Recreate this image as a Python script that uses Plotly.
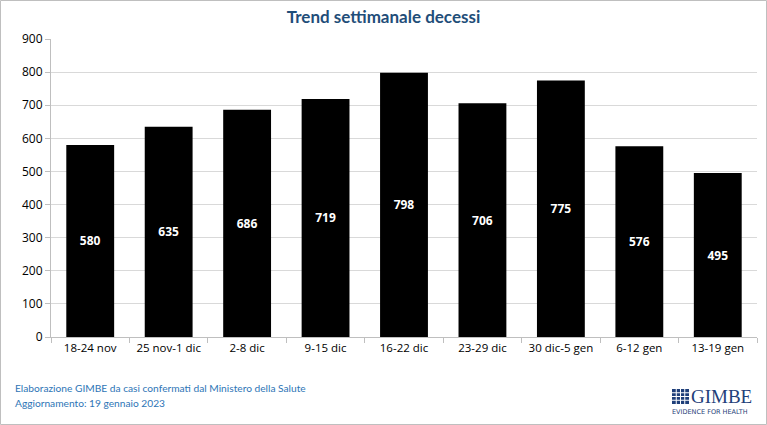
import plotly.graph_objects as go

categories = ["18-24 nov", "25 nov-1 dic", "2-8 dic", "9-15 dic", "16-22 dic",
              "23-29 dic", "30 dic-5 gen", "6-12 gen", "13-19 gen"]
deaths = [580, 635, 686, 719, 798, 706, 775, 576, 495]
y_ticks = [0, 100, 200, 300, 400, 500, 600, 700, 800, 900]

W, H = 767, 425
L, R, T, B = 51, 757, 39, 337

fig = go.Figure(go.Bar(
    x=categories, y=deaths,
    marker=dict(color="black", line=dict(width=0)),
    width=0.61,
    text=["<b>%d</b>" % v for v in deaths],
    textposition="inside", insidetextanchor="middle",
    textfont=dict(color="white", size=12, family="Open Sans"),
    textangle=0,
))

fig.update_layout(
    width=W, height=H,
    margin=dict(l=L, r=W - R, t=T, b=H - B),
    paper_bgcolor="white", plot_bgcolor="white",
    showlegend=False,
    bargap=0.39,
    xaxis=dict(
        type="category", tickson="boundaries", ticks="outside", ticklen=5,
        tickcolor="#BFBFBF", showline=True, linecolor="#BFBFBF", linewidth=1,
        showgrid=False, tickfont=dict(size=11.5, family="Open Sans", color="black"),
    ),
    yaxis=dict(
        range=[0, 900], tickvals=y_ticks, ticks="outside", ticklen=5,
        tickcolor="#BFBFBF", showline=True, linecolor="#BFBFBF", linewidth=1,
        showgrid=True, gridcolor="#D9D9D9", gridwidth=1, zeroline=False,
        tickfont=dict(size=12, family="Open Sans", color="black"),
    ),
    title=dict(text="<b>Trend settimanale decessi</b>", x=0.5, xanchor="center",
               y=1 - 17 / H, yanchor="middle",
               font=dict(size=17, family="Lato", color="#1F4E79")),
)

footer_color = "#2E75B6"

def px_x(p):
    return (p - L) / (R - L)

def px_y(p):
    return (B - p) / (B - T)

fig.add_annotation(xref="paper", yref="paper", x=px_x(13), y=px_y(388),
                   xanchor="left", yanchor="middle", showarrow=False,
                   text="Elaborazione GIMBE da casi confermati dal Ministero della Salute",
                   font=dict(size=10.2, family="Lato", color=footer_color))
fig.add_annotation(xref="paper", yref="paper", x=px_x(13), y=px_y(403),
                   xanchor="left", yanchor="middle", showarrow=False,
                   text="Aggiornamento: 19 gennaio 2023",
                   font=dict(size=10.2, family="Lato", color=footer_color))

# GIMBE logo
fig.add_annotation(xref="paper", yref="paper", x=px_x(689), y=px_y(396),
                   xanchor="left", yanchor="middle", showarrow=False,
                   text="GIMBE", font=dict(size=19, family="Liberation Serif", color="#1F3F7A"),
                   height=16, valign="middle")
fig.add_annotation(xref="paper", yref="paper", x=px_x(670), y=px_y(411),
                   xanchor="left", yanchor="middle", showarrow=False,
                   text="EVIDENCE FOR HEALTH", font=dict(size=6.5, family="DejaVu Sans", color="#1F3F7A"),
                   height=7, valign="middle")
fig.add_shape(type="rect", xref="paper", yref="paper",
              x0=px_x(672), x1=px_x(689), y0=px_y(404), y1=px_y(389),
              fillcolor="#1F3F7A", line=dict(width=0))
for i in range(1, 4):
    fig.add_shape(type="line", xref="paper", yref="paper",
                  x0=px_x(672 + 4.25 * i), x1=px_x(672 + 4.25 * i), y0=px_y(404), y1=px_y(389),
                  line=dict(color="white", width=1))
    fig.add_shape(type="line", xref="paper", yref="paper",
                  x0=px_x(672), x1=px_x(689), y0=px_y(389 + 3.75 * i), y1=px_y(389 + 3.75 * i),
                  line=dict(color="white", width=1))

# outer border
fig.add_shape(type="rect", xref="paper", yref="paper",
              x0=px_x(0.5), x1=px_x(766.5), y0=px_y(0.5), y1=px_y(424.5),
              line=dict(color="#BFBFBF", width=1), fillcolor="rgba(0,0,0,0)", layer="below")

fig.write_html("out.html")
